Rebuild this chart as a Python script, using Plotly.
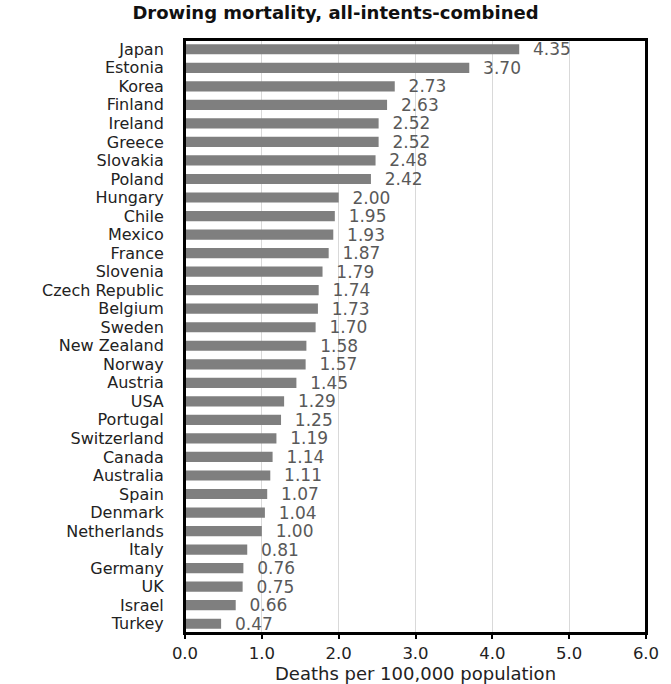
import plotly.graph_objects as go

countries = ["Japan", "Estonia", "Korea", "Finland", "Ireland", "Greece", "Slovakia", "Poland",
             "Hungary", "Chile", "Mexico", "France", "Slovenia", "Czech Republic", "Belgium",
             "Sweden", "New Zealand", "Norway", "Austria", "USA", "Portugal", "Switzerland",
             "Canada", "Australia", "Spain", "Denmark", "Netherlands", "Italy", "Germany", "UK",
             "Israel", "Turkey"]
values = [4.35, 3.70, 2.73, 2.63, 2.52, 2.52, 2.48, 2.42, 2.00, 1.95, 1.93, 1.87, 1.79, 1.74,
          1.73, 1.70, 1.58, 1.57, 1.45, 1.29, 1.25, 1.19, 1.14, 1.11, 1.07, 1.04, 1.00, 0.81,
          0.76, 0.75, 0.66, 0.47]
x_ticks = [0, 1, 2, 3, 4, 5, 6]
x_tick_labels = ["0.0", "1.0", "2.0", "3.0", "4.0", "5.0", "6.0"]

FONT = "DejaVu Sans"

fig = go.Figure(go.Bar(
    x=values, y=countries, orientation="h",
    marker=dict(color="#7f7f7f", line=dict(width=0)),
    text=["\u00a0\u00a0" + f"{v:.2f}" for v in values], textposition="outside",
    constraintext="none",
    textfont=dict(family=FONT, size=17, color="#595959"),
    cliponaxis=False,
))

fig.update_layout(
    width=671, height=684,
    margin=dict(l=185, r=25, t=40, b=51, autoexpand=False),
    paper_bgcolor="white", plot_bgcolor="white",
    bargap=0.45,
    showlegend=False,
    title=dict(text="<b>Drowing mortality, all-intents-combined</b>", x=0.5, xanchor="center",
               y=0.981, yanchor="middle",
               font=dict(family=FONT, size=18, color="#111111")),
    font=dict(family=FONT, color="#222222"),
    shapes=[dict(type="rect", xref="paper", yref="paper", x0=0, x1=1, y0=0, y1=1,
                 line=dict(color="black", width=2), fillcolor="rgba(0,0,0,0)", layer="above")],
)
fig.update_xaxes(
    range=[0, 6], tickmode="array", tickvals=x_ticks, ticktext=x_tick_labels,
    showgrid=True, gridcolor="#d9d9d9", gridwidth=1,
    showline=True, linecolor="black", linewidth=2, mirror=True,
    ticks="outside", ticklen=4, tickcolor="black", tickwidth=2,
    tickfont=dict(family=FONT, size=16.5, color="#222222"),
    title=dict(text="Deaths per 100,000 population", standoff=3,
               font=dict(family=FONT, size=18, color="#222222")),
    zeroline=False, automargin=False,
)
fig.update_yaxes(
    categoryorder="array", categoryarray=countries[::-1],
    tickmode="array", tickvals=countries,
    showline=True, linecolor="black", linewidth=2, mirror=True,
    showgrid=False, ticks="", ticklabelstandoff=16,
    tickfont=dict(family=FONT, size=16, color="#222222"),
    automargin=False,
)

fig.write_html("out.html", config={"displayModeBar": False},
               post_script="document.body.style.margin='0';")
